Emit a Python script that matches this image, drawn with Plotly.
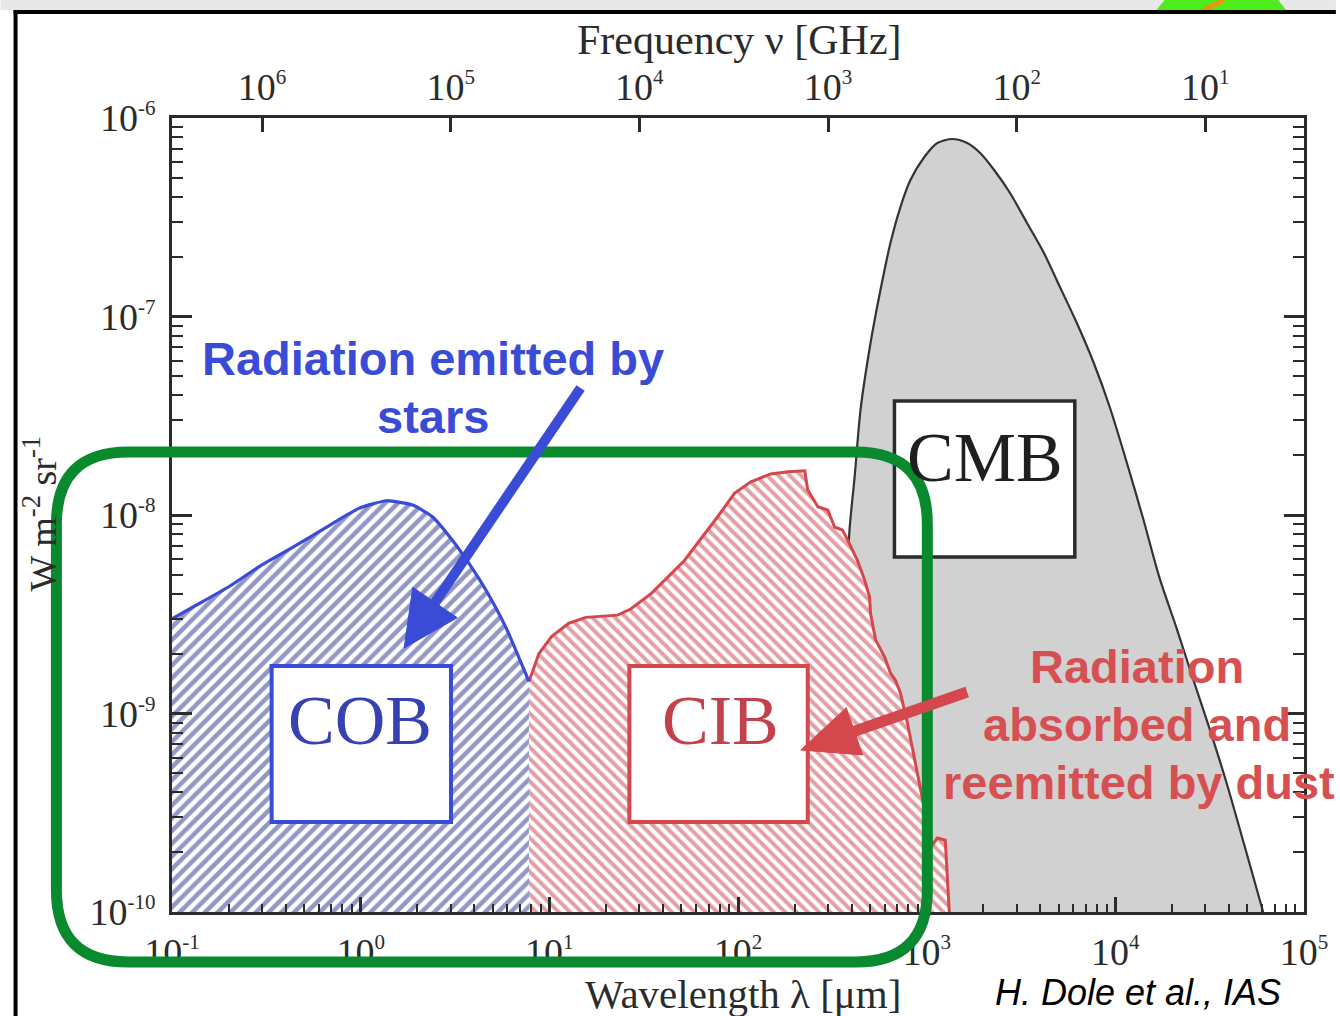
import math
import plotly.graph_objects as go

# ---- spectral energy distributions, nu*I_nu in W m^-2 sr^-1 vs wavelength in micron ----
cob_wavelength = [0.1, 0.13, 0.2, 0.29, 0.44, 0.66, 0.98, 1.37, 1.9, 2.4, 3.05, 3.75, 4.6, 5.9, 7.8]
cob_brightness = [3.0e-9, 3.45e-9, 4.35e-9, 5.5e-9, 6.9e-9, 8.7e-9, 1.08e-8, 1.18e-8, 1.12e-8,
                  9.8e-9, 7.5e-9, 5.7e-9, 4.2e-9, 2.7e-9, 1.45e-9]

cib_wavelength = [7.8, 8.8, 10.3, 12.7, 15.6, 23, 27, 35, 52, 78, 96, 117, 149, 184, 226, 234,
                  265, 299, 325, 358, 381, 430, 469, 498, 504, 536, 598, 643, 683, 726, 790,
                  861, 926, 1008, 1072, 1139, 1255, 1318]
cib_brightness = [1.45e-9, 2.0e-9, 2.45e-9, 2.85e-9, 3.05e-9, 3.13e-9, 3.36e-9, 4.05e-9, 5.9e-9,
                  9.8e-9, 1.29e-8, 1.47e-8, 1.61e-8, 1.65e-8, 1.67e-8, 1.34e-8, 1.10e-8, 1.06e-8,
                  8.7e-9, 8.4e-9, 7.5e-9, 5.9e-9, 4.7e-9, 3.86e-9, 3.2e-9, 2.35e-9, 1.93e-9,
                  1.6e-9, 1.47e-9, 1.27e-9, 9.0e-10, 6.0e-10, 4.1e-10, 2.8e-10, 2.17e-10,
                  2.36e-10, 2.3e-10, 1.0e-10]

cmb_wavelength = [325, 342, 363, 390, 415, 446, 504, 569, 643, 726, 820, 972, 1139, 1367, 1640,
                  1921, 2278, 2766, 3402, 4183, 5083, 6250, 7687, 9337, 11480, 14110, 17150,
                  21090, 25930, 31890, 38740, 48230, 60750]
cmb_brightness = [1.0e-10, 4.6e-10, 2.1e-9, 8.4e-9, 1.55e-8, 3.38e-8, 7.35e-8, 1.36e-7, 2.35e-7,
                  3.56e-7, 4.87e-7, 6.36e-7, 7.48e-7, 7.84e-7, 7.48e-7, 6.66e-7, 5.47e-7, 4.19e-7,
                  2.96e-7, 2.09e-7, 1.41e-7, 9.27e-8, 5.83e-8, 3.50e-8, 1.85e-8, 9.44e-9, 4.82e-9,
                  2.70e-9, 1.475e-9, 8.16e-10, 4.52e-10, 2.18e-10, 1.0e-10]

floor = 1e-10

# ---- axes ----
wl_exponents = [-1, 0, 1, 2, 3, 4, 5]
freq_exponents = [6, 5, 4, 3, 2, 1]
flux_exponents = [-10, -9, -8, -7, -6]

def power_label(e):
    return "10<sup><span style='font-size:21px'>%d</span></sup>" % e

wl_ticks = [10.0 ** e for e in wl_exponents]
wl_labels = [power_label(e) for e in wl_exponents]
freq_ticks = [10.0 ** e for e in freq_exponents]
freq_labels = [power_label(e) for e in freq_exponents]
flux_ticks = [10.0 ** e for e in flux_exponents]
flux_labels = [power_label(e) for e in flux_exponents]
wl_minor = [m * 10.0 ** e for e in range(-1, 5) for m in range(2, 10)]
flux_minor = [m * 10.0 ** e for e in range(-10, -6) for m in range(2, 10)]

# frequency axis spans c/lambda over the wavelength range (nu[GHz] = 3e5 / lambda[um])
freq_range = [math.log10(3e5 / 0.1), math.log10(3e5 / 1e5)]

# ---- figure geometry (pixels) ----
W, H = 1340, 1016
ML, MR, MT, MB = 172, 32, 118, 104
PW, PH = W - ML - MR, H - MT - MB

def fx(px):
    return (px - ML) / PW

def fy(py):
    return (H - MB - py) / PH

BLUE = "#3a4bd6"
BLUE_DARK = "#25308c"
RED = "#d4484d"
RED_TEXT = "#d65052"
GREEN = "#0a8a2e"
INK = "#2b2b2b"

fig = go.Figure()

# CMB: grey filled blackbody
fig.add_trace(go.Scatter(
    x=cmb_wavelength, y=cmb_brightness, mode="lines", fill="toself",
    fillcolor="#d1d1d1", line=dict(color="#333333", width=2.2, shape="spline", smoothing=0.8),
    hoverinfo="skip"))

# CIB: red hatched area
fig.add_trace(go.Scatter(
    x=cib_wavelength + [cib_wavelength[0]], y=cib_brightness + [floor],
    mode="lines", fill="toself", fillcolor="white", line=dict(width=0),
    fillpattern=dict(shape="\\", fgcolor="#c6404a", bgcolor="white", size=8, solidity=0.5),
    hoverinfo="skip"))
fig.add_trace(go.Scatter(
    x=cib_wavelength, y=cib_brightness, mode="lines",
    line=dict(color=RED, width=3), hoverinfo="skip"))

# COB: blue hatched area
fig.add_trace(go.Scatter(
    x=cob_wavelength + [cob_wavelength[-1], cob_wavelength[0]],
    y=cob_brightness + [floor, floor],
    mode="lines", fill="toself", fillcolor="white", line=dict(width=0),
    fillpattern=dict(shape="/", fgcolor=BLUE_DARK, bgcolor="white", size=9, solidity=0.5),
    hoverinfo="skip"))
fig.add_trace(go.Scatter(
    x=cob_wavelength, y=cob_brightness, mode="lines",
    line=dict(color=BLUE, width=3.2, shape="spline", smoothing=0.5), hoverinfo="skip"))

# carrier for the frequency axis on top
fig.add_trace(go.Scatter(x=[], y=[], xaxis="x2", yaxis="y", mode="lines",
                         showlegend=False, hoverinfo="skip"))

tickfont = dict(family="Liberation Serif, DejaVu Serif, serif", size=38, color=INK)
common = dict(showgrid=False, zeroline=False, showline=True, linecolor=INK, linewidth=3,
              ticks="inside", tickcolor=INK, tickfont=tickfont)

fig.update_layout(
    width=W, height=H, margin=dict(l=ML, r=MR, t=MT, b=MB),
    paper_bgcolor="white", plot_bgcolor="white", showlegend=False,
    xaxis=dict(type="log", range=[-1, 5], tickmode="array", tickvals=wl_ticks,
               ticktext=wl_labels, ticklen=15, tickwidth=2.5, mirror=False,
               minor=dict(tickmode="array", tickvals=wl_minor, ticks="inside",
                          ticklen=8, tickwidth=1.5, tickcolor=INK),
               ticklabelstandoff=4, **common),
    xaxis2=dict(type="log", range=freq_range, overlaying="x", side="top", anchor="y",
                tickmode="array", tickvals=freq_ticks, ticktext=freq_labels,
                ticklen=14, tickwidth=2.5, ticklabelstandoff=0, **common),
    yaxis=dict(type="log", range=[-10, -6], tickmode="array", tickvals=flux_ticks,
               ticktext=flux_labels, ticklen=20, tickwidth=2.5, mirror="ticks",
               minor=dict(tickmode="array", tickvals=flux_minor, ticks="inside",
                          ticklen=11, tickwidth=1.5, tickcolor=INK),
               ticklabelstandoff=6, **common),
)

shapes = []

# slide frame and top strip
shapes.append(dict(type="rect", xref="paper", yref="paper", x0=fx(0), x1=fx(W), y0=fy(0), y1=fy(10),
                   fillcolor="#e8e8e8", line=dict(width=0), layer="below"))
shapes.append(dict(type="path", xref="paper", yref="paper",
                   path="M %f,%f Q %f,%f %f,%f Z" % (fx(1160), fy(10), fx(1225), fy(-75), fx(1290), fy(10)),
                   fillcolor="#4ded1c", line=dict(width=0)))
shapes.append(dict(type="line", xref="paper", yref="paper", x0=fx(1207), y0=fy(10), x1=fx(1228), y1=fy(0),
                   line=dict(color="#e09a12", width=5)))
shapes.append(dict(type="line", xref="paper", yref="paper", x0=fx(13), y0=fy(12), x1=fx(W), y1=fy(12),
                   line=dict(color="black", width=4)))
shapes.append(dict(type="line", xref="paper", yref="paper", x0=fx(15), y0=fy(10), x1=fx(15), y1=fy(H),
                   line=dict(color="black", width=4)))

# label boxes
def box(x0, y0, x1, y1, color, width):
    return dict(type="rect", xref="paper", yref="paper", x0=fx(x0), x1=fx(x1), y0=fy(y1), y1=fy(y0),
                fillcolor="white", line=dict(color=color, width=width))

shapes.append(box(272, 666, 452, 822, BLUE, 4))
shapes.append(box(631, 666, 810, 822, RED, 4))
shapes.append(box(897, 401, 1078, 557, INK, 3.5))

# green rounded frame
def rounded_rect(x0, y0, x1, y1, r):
    pts = [
        ("M", (x0 + r, y0)), ("L", (x1 - r, y0)), ("Q", (x1, y0), (x1, y0 + r)),
        ("L", (x1, y1 - r)), ("Q", (x1, y1), (x1 - r, y1)), ("L", (x0 + r, y1)),
        ("Q", (x0, y1), (x0, y1 - r)), ("L", (x0, y0 + r)), ("Q", (x0, y0), (x0 + r, y0)),
    ]
    parts = []
    for item in pts:
        cmd = item[0]
        coords = " ".join("%f,%f" % (fx(p[0]), fy(p[1])) for p in item[1:])
        parts.append(cmd + " " + coords)
    return " ".join(parts) + " Z"

shapes.append(dict(type="path", xref="paper", yref="paper",
                   path=rounded_rect(56, 452, 930, 962, 72),
                   line=dict(color=GREEN, width=11), fillcolor="rgba(0,0,0,0)"))

# arrows
def arrow(tail, tip, head_len, head_half, width, color):
    (x0, y0), (x1, y1) = tail, tip
    dx, dy = x1 - x0, y1 - y0
    length = math.hypot(dx, dy)
    ux, uy = dx / length, dy / length
    bx, by = x1 - head_len * ux, y1 - head_len * uy
    nx, ny = -uy, ux
    shaft = dict(type="line", xref="paper", yref="paper",
                 x0=fx(x0), y0=fy(y0), x1=fx(bx + 3 * ux), y1=fy(by + 3 * uy),
                 line=dict(color=color, width=width))
    head = dict(type="path", xref="paper", yref="paper",
                path="M %f,%f L %f,%f L %f,%f Z" % (
                    fx(x1), fy(y1),
                    fx(bx + head_half * nx), fy(by + head_half * ny),
                    fx(bx - head_half * nx), fy(by - head_half * ny)),
                fillcolor=color, line=dict(color=color, width=1))
    return [shaft, head]

shapes += arrow((582, 388), (405, 648), 55, 27, 10, BLUE)
shapes += arrow((970, 692), (803, 750), 57, 25, 11, RED)

fig.update_layout(shapes=shapes)

# ---- text ----
serif = "Liberation Serif, DejaVu Serif, serif"
sans_bold = "Liberation Sans, Arial, sans-serif"

def label(text, x, y, size, color, family, **kw):
    fig.add_annotation(text=text, x=fx(x), y=fy(y), xref="paper", yref="paper",
                       showarrow=False, xanchor="center", yanchor="middle",
                       font=dict(family=family, size=size, color=color), **kw)

label("Frequency ν [GHz]", 742, 40, 42, INK, serif)
label("Wavelength λ [μm]", 745, 994, 41, INK, serif)
label("W m<sup>-2</sup> sr<sup>-1</sup>", 40, 513, 38, INK, serif, textangle=-90)

label("COB", 361, 720, 70, "#3641b2", serif)
label("CIB", 722, 720, 70, "#c1424b", serif)
label("CMB", 988, 457, 70, "#1f1f1f", serif)

label("<b>Radiation emitted by</b>", 434, 358, 47, BLUE, sans_bold)
label("<b>stars</b>", 434, 416, 47, BLUE, sans_bold)

label("<b>Radiation</b>", 1140, 666, 47, RED_TEXT, sans_bold)
label("<b>absorbed and</b>", 1140, 724, 47, RED_TEXT, sans_bold)
label("<b>reemitted by dust</b>", 1142, 782, 47, RED_TEXT, sans_bold)

label("<i>H. Dole et al., IAS</i>", 1141, 992, 36, "black", "Liberation Sans, Arial, sans-serif")

fig.write_html("out.html")
